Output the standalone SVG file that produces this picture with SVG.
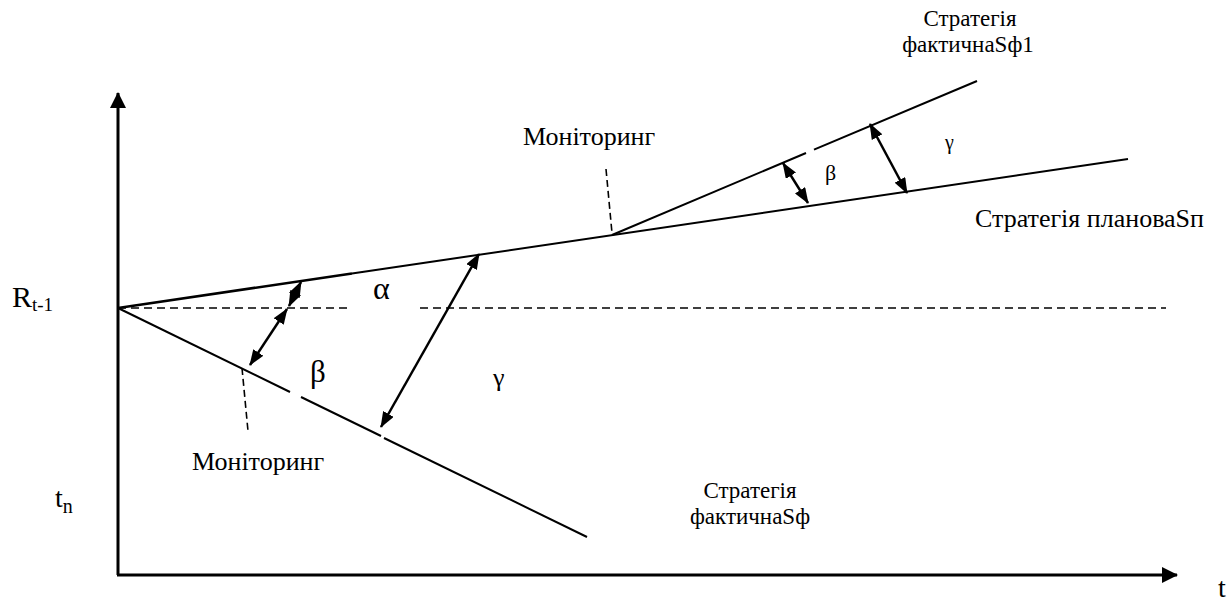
<svg xmlns="http://www.w3.org/2000/svg" width="1228" height="601" viewBox="0 0 1228 601">
<style>
.ln{stroke:#000;stroke-width:2;fill:none}
.ax{stroke:#000;stroke-width:3;fill:none}
.dash{stroke:#000;stroke-width:1.6;fill:none;stroke-dasharray:8 5}
.dash2{stroke:#000;stroke-width:1.6;fill:none;stroke-dasharray:7 4}
.arr{stroke:#000;stroke-width:2.5;fill:none;marker-start:url(#ah);marker-end:url(#ah)}
.f{font-family:"Liberation Serif",serif;fill:#000}
.lbl{font-size:26px}
.two{font-size:23px}
</style>
<defs>
<marker id="ah" viewBox="0 0 16 12" refX="15" refY="6" markerWidth="16" markerHeight="12" markerUnits="userSpaceOnUse" orient="auto-start-reverse">
<path d="M0,0 L16,6 L0,12 Z" fill="#000"/>
</marker>
<marker id="axh" viewBox="0 0 16 16" refX="15" refY="8" markerWidth="16" markerHeight="16" markerUnits="userSpaceOnUse" orient="auto">
<path d="M0,0 L16,8 L0,16 Z" fill="#000"/>
</marker>
</defs>
<g id="axes">
<line class="ax" x1="118" y1="575" x2="118" y2="93" marker-end="url(#axh)"/>
<line class="ax" x1="117" y1="575" x2="1177" y2="575" marker-end="url(#axh)"/>
</g>
<g id="baseline">
<line class="dash" x1="118" y1="308" x2="352" y2="308"/>
<line class="dash" x1="420" y1="308" x2="1166" y2="308"/>
</g>
<g id="plan">
<line class="ln" x1="118" y1="308" x2="352" y2="273.5" style="stroke-width:2.6"/>
<line class="ln" x1="352" y1="273.5" x2="1128" y2="159"/>
</g>
<g id="fact1">
<line class="ln" x1="612" y1="235" x2="806" y2="153"/>
<line class="ln" x1="814" y1="149.6" x2="977" y2="81"/>
</g>
<g id="fact">
<line class="ln" x1="118" y1="308" x2="290" y2="392"/>
<line class="ln" x1="301" y1="397" x2="381" y2="436"/>
<line class="ln" x1="384" y1="438" x2="587" y2="537"/>
</g>
<g id="monitoring-lines">
<line class="dash2" x1="606" y1="169" x2="612" y2="233"/>
<line class="dash2" x1="242" y1="368" x2="248" y2="431"/>
</g>
<g id="connectors">
<line class="arr" x1="289" y1="306" x2="301" y2="282"/>
<line class="arr" x1="287" y1="309" x2="250" y2="365"/>
<line class="arr" x1="479" y1="254" x2="381" y2="427"/>
<line class="arr" x1="783" y1="163" x2="808" y2="203"/>
<line class="arr" x1="870" y1="124" x2="907" y2="193"/>
</g>
<g id="labels" class="f">
<text class="two" x="970" y="26" text-anchor="middle">Стратегія</text>
<text class="two" x="968" y="52" text-anchor="middle">фактичнаSф1</text>
<text class="lbl" x="523" y="145">Моніторинг</text>
<text class="lbl" x="975" y="227">Стратегія плановаSп</text>
<text class="lbl" x="192" y="470">Моніторинг</text>
<text class="two" x="750" y="498" text-anchor="middle">Стратегія</text>
<text class="two" x="750" y="524" text-anchor="middle">фактичнаSф</text>
<text x="945" y="149" style="font-size:20px">γ</text>
<text x="825" y="180" style="font-size:22px">β</text>
<text x="493" y="386" style="font-size:26px">γ</text>
<text x="373" y="299" style="font-size:32px">α</text>
<text x="310" y="382" style="font-size:31px">β</text>
<text x="12" y="307" style="font-size:30px">R<tspan dy="4" style="font-size:19px">t-1</tspan></text>
<text x="55" y="507" style="font-size:28px">t<tspan dy="6" style="font-size:20px">n</tspan></text>
<text x="1218" y="597" style="font-size:28px">t</text>
</g>
</svg>
